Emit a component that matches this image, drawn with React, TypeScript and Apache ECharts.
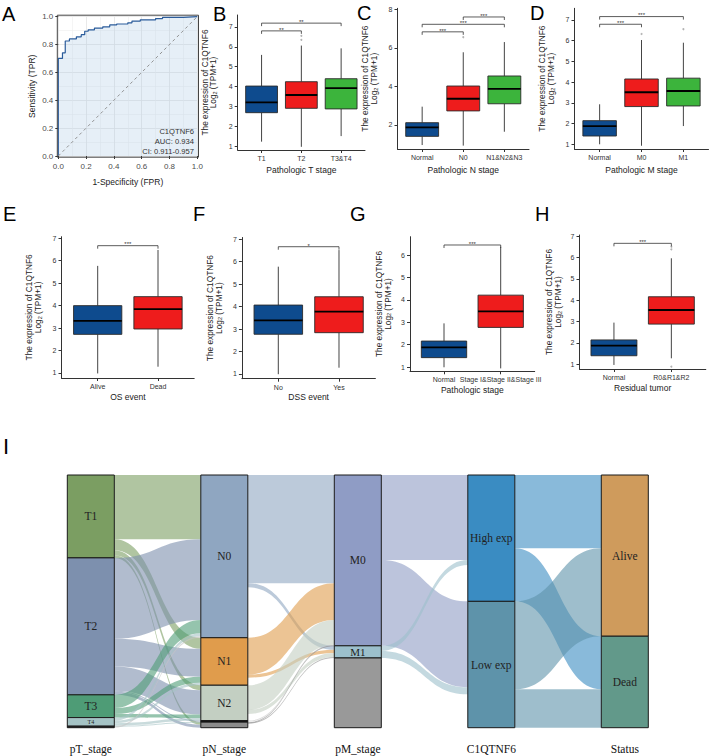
import React, { useEffect, useRef } from 'react';
import * as echarts from 'echarts';

// ---------- Panel A: ROC ----------
const rocFpr = [0, 0, 0.03, 0.03, 0.05, 0.05, 0.08, 0.08, 0.13, 0.13, 0.165, 0.165, 0.19, 0.19, 0.215, 0.215, 0.26, 0.26, 0.32, 0.32, 0.37, 0.37, 0.42, 0.42, 0.5, 0.5, 0.53, 0.53, 0.59, 0.59, 0.7, 0.7, 0.75, 0.75, 0.9, 0.9, 1.0];
const rocTpr = [0, 0.7, 0.7, 0.74, 0.74, 0.825, 0.825, 0.84, 0.84, 0.855, 0.855, 0.87, 0.87, 0.895, 0.895, 0.905, 0.905, 0.918, 0.918, 0.927, 0.927, 0.94, 0.94, 0.947, 0.947, 0.955, 0.955, 0.968, 0.968, 0.977, 0.977, 0.986, 0.986, 0.995, 0.995, 1, 1];
const rocDiag = [0, 1];
const rocNote = ['C1QTNF6', 'AUC: 0.934', 'CI: 0.911-0.957'];

// ---------- Boxplot panels ----------
const bCats = ['T1', 'T2', 'T3&T4'];
const bMin = [1.22, 0.96, 1.5];
const bQ1 = [2.68, 2.9, 2.87];
const bMed = [3.2, 3.57, 3.92];
const bQ3 = [4.02, 4.24, 4.39];
const bMax = [5.59, 6.06, 5.92];
const bOutX = [2, 2];
const bOutY = [6.35, 6.55];
const bSigFrom = [1, 1];
const bSigTo = [2, 3];
const bSigY = [6.8, 7.19];
const bSigText = ['**', '**'];
const bTicks = [1, 2, 3, 4, 5, 6, 7];

const cCats = ['Normal', 'N0', 'N1&N2&N3'];
const cMin = [0.96, 0.93, 1.65];
const cQ1 = [1.41, 2.73, 3.1];
const cMed = [1.88, 3.36, 3.87];
const cQ3 = [2.12, 4.02, 4.54];
const cMax = [2.95, 5.77, 6.3];
const cOutX = [2];
const cOutY = [6.55];
const cSigFrom = [1, 1, 2];
const cSigTo = [2, 3, 3];
const cSigY = [6.83, 7.22, 7.6];
const cSigText = ['***', '***', '***'];
const cTicks = [2, 4, 6, 8];

const dCats = ['Normal', 'M0', 'M1'];
const dMin = [1.0, 0.93, 1.88];
const dQ1 = [1.4, 2.82, 2.85];
const dMed = [1.88, 3.51, 3.57];
const dQ3 = [2.14, 4.15, 4.19];
const dMax = [2.93, 6.03, 5.9];
const dOutX = [2, 3];
const dOutY = [6.32, 6.55];
const dSigFrom = [1, 1];
const dSigTo = [2, 3];
const dSigY = [6.79, 7.16];
const dSigText = ['***', '***'];
const dTicks = [1, 2, 3, 4, 5, 6, 7];

const eCats = ['Alive', 'Dead'];
const eMin = [0.98, 1.28];
const eQ1 = [2.72, 2.96];
const eMed = [3.32, 3.84];
const eQ3 = [4.0, 4.4];
const eMax = [5.77, 6.48];
const eOutX: number[] = [];
const eOutY: number[] = [];
const eSigFrom = [1];
const eSigTo = [2];
const eSigY = [6.67];
const eSigText = ['***'];
const eTicks = [1, 2, 3, 4, 5, 6, 7];

const fCats = ['No', 'Yes'];
const fMin = [0.99, 1.28];
const fQ1 = [2.77, 2.84];
const fMed = [3.39, 3.78];
const fQ3 = [4.07, 4.44];
const fMax = [5.78, 6.52];
const fOutX: number[] = [];
const fOutY: number[] = [];
const fSigFrom = [1];
const fSigTo = [2];
const fSigY = [6.67];
const fSigText = ['*'];
const fTicks = [1, 2, 3, 4, 5, 6, 7];

const gCats = ['Normal', 'Stage I&Stage II&Stage III'];
const gMin = [0.99, 0.94];
const gQ1 = [1.42, 2.77];
const gMed = [1.88, 3.49];
const gQ3 = [2.16, 4.21];
const gMax = [2.95, 6.37];
const gOutX: number[] = [];
const gOutY: number[] = [];
const gSigFrom = [1];
const gSigTo = [2];
const gSigY = [6.45];
const gSigText = ['***'];
const gTicks = [1, 2, 3, 4, 5, 6];

const hCats = ['Normal', 'R0&R1&R2'];
const hMin = [0.97, 1.28];
const hQ1 = [1.4, 2.88];
const hMed = [1.87, 3.54];
const hQ3 = [2.14, 4.16];
const hMax = [2.95, 5.96];
const hOutX = [2, 2, 2];
const hOutY = [6.38, 6.5, 0.89];
const hSigFrom = [1];
const hSigTo = [2];
const hSigY = [6.66];
const hSigText = ['***'];
const hTicks = [1, 2, 3, 4, 5, 6, 7];

// ---------- Panel I: Sankey ----------
const sankeyNodes = ['T1', 'T2', 'T3', 'T4', 'TX', 'N0', 'N1', 'N2', 'N3', 'NX', 'M0', 'M1', 'MX', 'High exp', 'Low exp', 'Alive', 'Dead'];
const linkSource = [
  'T1', 'T1', 'T1', 'T1',
  'T2', 'T2', 'T2', 'T2', 'T2',
  'T3', 'T3', 'T3',
  'T4', 'T4', 'T4', 'T4',
  'TX',
  'N0', 'N0', 'N0',
  'N1', 'N1', 'N1',
  'N2', 'N2', 'N2',
  'N3', 'N3',
  'NX', 'NX', 'NX',
  'M0', 'M0', 'M1', 'M1', 'MX', 'MX',
  'High exp', 'High exp', 'Low exp', 'Low exp',
];
const linkTarget = [
  'N0', 'N1', 'N2', 'NX',
  'N0', 'N1', 'N2', 'N3', 'NX',
  'N0', 'N1', 'N2',
  'N0', 'N1', 'N2', 'N3',
  'N0',
  'M0', 'M1', 'MX',
  'M0', 'M1', 'MX',
  'M0', 'M1', 'MX',
  'M0', 'MX',
  'M0', 'M1', 'MX',
  'High exp', 'Low exp', 'High exp', 'Low exp', 'High exp', 'Low exp',
  'Alive', 'Dead', 'Alive', 'Dead',
];
const linkValue = [
  127, 22, 10, 5,
  160, 55, 48, 2, 6,
  26, 12, 7,
  6, 5, 5, 1,
  3,
  214, 8, 100,
  73, 6, 15,
  49, 8, 13,
  1, 2,
  1, 2, 8,
  168, 170, 10, 14, 72, 66,
  145, 105, 174, 76,
];
const sankeyColumns = ['pT_stage', 'pN_stage', 'pM_stage', 'C1QTNF6', 'Status'];

// ---------- styles ----------
const SANS = 'Liberation Sans, Arial, Helvetica, sans-serif';
const SERIF = 'Liberation Serif, Times New Roman, serif';
const BOX_COLORS = ['#0e4b8e', '#ee1c1c', '#3cb43c'];
const NODE_COLORS: Record<string, string> = {
  T1: '#7b9e62', T2: '#7d90ae', T3: '#4e9c76', T4: '#a5c3c5', TX: '#1a1a1a',
  N0: '#8fa6c1', N1: '#e09c4c', N2: '#c3cfc2', N3: '#111111', NX: '#8c8c8c',
  M0: '#8f9cc5', M1: '#9cc0cc', MX: '#999999',
  'High exp': '#3a8cc2', 'Low exp': '#5e93aa',
  Alive: '#cf9b5c', Dead: '#62998a',
};

type Panel = {
  cats: string[]; min: number[]; q1: number[]; med: number[]; q3: number[]; max: number[];
  outX: number[]; outY: number[]; sigFrom: number[]; sigTo: number[]; sigY: number[]; sigText: string[];
  ticks: number[]; xTitle: string;
  grid: { left: number; top: number; width: number; height: number };
  yMin: number; yMax: number; xGap: number; yGap: number;
};

const panels: Panel[] = [
  { cats: bCats, min: bMin, q1: bQ1, med: bMed, q3: bQ3, max: bMax, outX: bOutX, outY: bOutY, sigFrom: bSigFrom, sigTo: bSigTo, sigY: bSigY, sigText: bSigText, ticks: bTicks, xTitle: 'Pathologic T stage',
    grid: { left: 237.7, top: 15, width: 127.3, height: 135 }, yMin: 0.8, yMax: 7.6, xGap: 15, yGap: 20 },
  { cats: cCats, min: cMin, q1: cQ1, med: cMed, q3: cQ3, max: cMax, outX: cOutX, outY: cOutY, sigFrom: cSigFrom, sigTo: cSigTo, sigY: cSigY, sigText: cSigText, ticks: cTicks, xTitle: 'Pathologic N stage',
    grid: { left: 397.5, top: 8.3, width: 131.5, height: 140.7 }, yMin: 0.755, yMax: 8.05, xGap: 16, yGap: 19 },
  { cats: dCats, min: dMin, q1: dQ1, med: dMed, q3: dQ3, max: dMax, outX: dOutX, outY: dOutY, sigFrom: dSigFrom, sigTo: dSigTo, sigY: dSigY, sigText: dSigText, ticks: dTicks, xTitle: 'Pathologic M stage',
    grid: { left: 574.5, top: 8.3, width: 134, height: 140.7 }, yMin: 0.773, yMax: 7.56, xGap: 16, yGap: 19 },
  { cats: eCats, min: eMin, q1: eQ1, med: eMed, q3: eQ3, max: eMax, outX: eOutX, outY: eOutY, sigFrom: eSigFrom, sigTo: eSigTo, sigY: eSigY, sigText: eSigText, ticks: eTicks, xTitle: 'OS event',
    grid: { left: 61.5, top: 236.7, width: 132.7, height: 141.3 }, yMin: 0.777, yMax: 7.07, xGap: 14, yGap: 19 },
  { cats: fCats, min: fMin, q1: fQ1, med: fMed, q3: fQ3, max: fMax, outX: fOutX, outY: fOutY, sigFrom: fSigFrom, sigTo: fSigTo, sigY: fSigY, sigText: fSigText, ticks: fTicks, xTitle: 'DSS event',
    grid: { left: 241.9, top: 237.5, width: 133.5, height: 141.2 }, yMin: 0.79, yMax: 7.08, xGap: 14, yGap: 19 },
  { cats: gCats, min: gMin, q1: gQ1, med: gMed, q3: gQ3, max: gMax, outX: gOutX, outY: gOutY, sigFrom: gSigFrom, sigTo: gSigTo, sigY: gSigY, sigText: gSigText, ticks: gTicks, xTitle: 'Pathologic stage',
    grid: { left: 410, top: 236.7, width: 124.7, height: 134.6 }, yMin: 0.81, yMax: 6.82, xGap: 14, yGap: 18 },
  { cats: hCats, min: hMin, q1: hQ1, med: hMed, q3: hQ3, max: hMax, outX: hOutX, outY: hOutY, sigFrom: hSigFrom, sigTo: hSigTo, sigY: hSigY, sigText: hSigText, ticks: hTicks, xTitle: 'Residual tumor',
    grid: { left: 579.5, top: 235, width: 126.3, height: 134 }, yMin: 0.78, yMax: 7.05, xGap: 14, yGap: 17 },
];

function buildOption() {
  const grids: any[] = [];
  const xAxes: any[] = [];
  const yAxes: any[] = [];
  const series: any[] = [];

  // ROC grid (index 0)
  grids.push({ left: 58.3, top: 16.6, width: 139, height: 139.4, containLabel: false });
  xAxes.push({
    type: 'value', gridIndex: 0, min: 0, max: 1, interval: 0.2,
    axisLine: { show: false, onZero: false },
    axisTick: { show: true, length: 3, lineStyle: { color: '#333' } },
    axisLabel: { fontSize: 8, color: '#4d4d4d', margin: 6, fontFamily: SANS, formatter: (v: number) => v.toFixed(1) },
    splitLine: { show: true, lineStyle: { color: '#e3e3e3', width: 0.8 } },
    minorTick: { show: false, splitNumber: 2 },
    minorSplitLine: { show: true, lineStyle: { color: '#efefef', width: 0.6 } },
    name: '1-Specificity (FPR)', nameLocation: 'middle', nameGap: 21,
    nameTextStyle: { fontSize: 8.5, color: '#222', fontFamily: SANS },
  });
  yAxes.push({
    type: 'value', gridIndex: 0, min: 0, max: 1, interval: 0.2,
    axisLine: { show: false, onZero: false },
    axisTick: { show: true, length: 3, lineStyle: { color: '#333' } },
    axisLabel: { fontSize: 8, color: '#4d4d4d', margin: 5, fontFamily: SANS, formatter: (v: number) => v.toFixed(1) },
    splitLine: { show: true, lineStyle: { color: '#e3e3e3', width: 0.8 } },
    minorTick: { show: false, splitNumber: 2 },
    minorSplitLine: { show: true, lineStyle: { color: '#efefef', width: 0.6 } },
    name: 'Sensitivity (TPR)', nameLocation: 'middle', nameGap: 22,
    nameTextStyle: { fontSize: 8.5, color: '#222', fontFamily: SANS },
  });
  series.push({
    type: 'line', xAxisIndex: 0, yAxisIndex: 0,
    data: rocFpr.map((x, i) => [x, rocTpr[i]]),
    symbol: 'none', showSymbol: false,
    lineStyle: { color: '#2b5c9b', width: 1.2 },
    areaStyle: { color: 'rgba(170,200,228,0.42)', origin: 'start' },
    z: 3,
  });
  series.push({
    type: 'line', xAxisIndex: 0, yAxisIndex: 0,
    data: rocDiag.map((v) => [v, v]),
    symbol: 'none', showSymbol: false,
    lineStyle: { color: '#888', width: 0.9, type: [3, 3] },
    z: 4,
  });

  panels.forEach((p, k) => {
    const gi = k + 1;
    const n = p.cats.length;
    const idx = p.cats.map((_, i) => i + 1);
    grids.push({ ...p.grid, containLabel: false });
    xAxes.push({
      type: 'value', gridIndex: gi, min: 0.4, max: n + 0.6,
      axisLine: { show: true, onZero: false, lineStyle: { color: '#333', width: 1 } },
      axisTick: { show: true, length: 3, customValues: idx, lineStyle: { color: '#333' } },
      axisLabel: {
        customValues: idx, fontSize: 7, color: '#333', margin: 5, fontFamily: SANS,
        formatter: (v: number) => p.cats[Math.round(v) - 1] ?? '',
      },
      splitLine: { show: false },
      name: p.xTitle, nameLocation: 'middle', nameGap: p.xGap,
      nameTextStyle: { fontSize: 8.5, color: '#222', fontFamily: SANS },
    });
    yAxes.push({
      type: 'value', gridIndex: gi, min: p.yMin, max: p.yMax,
      axisLine: { show: true, onZero: false, lineStyle: { color: '#333', width: 1 } },
      axisTick: { show: true, length: 3, customValues: p.ticks, lineStyle: { color: '#333' } },
      axisLabel: { customValues: p.ticks, fontSize: 7, color: '#333', margin: 5, fontFamily: SANS },
      splitLine: { show: false },
      name: '{a|The expression of C1QTNF6}\n{a|Log}{s|2}{a| (TPM+1)}',
      nameLocation: 'middle', nameGap: p.yGap,
      nameTextStyle: {
        fontSize: 8.3, color: '#222', fontFamily: SANS,
        rich: {
          a: { fontSize: 8.3, lineHeight: 8.8, color: '#222', fontFamily: SANS },
          s: { fontSize: 5.5, lineHeight: 5, verticalAlign: 'bottom', color: '#222', fontFamily: SANS },
        },
      },
    });
    // boxes
    series.push({
      type: 'custom', xAxisIndex: gi, yAxisIndex: gi,
      data: p.cats.map((_, i) => [i + 1, p.min[i], p.q1[i], p.med[i], p.q3[i], p.max[i]]),
      encode: { x: 0, y: [1, 2, 3, 4, 5] },
      renderItem: (params: any, api: any) => {
        const x = api.value(0);
        const lo = api.coord([x, api.value(1)]);
        const q1 = api.coord([x, api.value(2)]);
        const md = api.coord([x, api.value(3)]);
        const q3 = api.coord([x, api.value(4)]);
        const hi = api.coord([x, api.value(5)]);
        const w = api.size([0.8, 0])[0];
        const cx = lo[0];
        const color = BOX_COLORS[params.dataIndex % BOX_COLORS.length];
        return {
          type: 'group',
          children: [
            { type: 'line', shape: { x1: cx, y1: hi[1], x2: cx, y2: q3[1] }, style: { stroke: '#444', lineWidth: 1 } },
            { type: 'line', shape: { x1: cx, y1: q1[1], x2: cx, y2: lo[1] }, style: { stroke: '#444', lineWidth: 1 } },
            { type: 'rect', shape: { x: cx - w / 2, y: q3[1], width: w, height: q1[1] - q3[1] }, style: { fill: color, stroke: '#2a2a2a', lineWidth: 0.9 } },
            { type: 'line', shape: { x1: cx - w / 2, y1: md[1], x2: cx + w / 2, y2: md[1] }, style: { stroke: '#000', lineWidth: 1.8 } },
          ],
        };
      },
      z: 3,
    });
    if (p.outX.length) {
      series.push({
        type: 'scatter', xAxisIndex: gi, yAxisIndex: gi,
        data: p.outX.map((x, i) => [x, p.outY[i]]),
        symbolSize: 2, itemStyle: { color: '#a0a0a0' }, z: 4,
      });
    }
    series.push({
      type: 'custom', xAxisIndex: gi, yAxisIndex: gi,
      data: p.sigFrom.map((f, i) => [f, p.sigTo[i], p.sigY[i]]),
      encode: { x: [0, 1], y: 2 },
      renderItem: (params: any, api: any) => {
        const a = api.coord([api.value(0), api.value(2)]);
        const b = api.coord([api.value(1), api.value(2)]);
        const tip = 3;
        return {
          type: 'group',
          children: [
            { type: 'polyline', shape: { points: [[a[0], a[1] + tip], [a[0], a[1]], [b[0], b[1]], [b[0], b[1] + tip]] }, style: { stroke: '#333', lineWidth: 0.8, fill: null } },
            { type: 'text', style: { text: p.sigText[params.dataIndex], x: (a[0] + b[0]) / 2, y: a[1] - 1.2, align: 'center', verticalAlign: 'middle', textAlign: 'center', textVerticalAlign: 'middle', fontSize: 6, fontFamily: SANS, fill: '#333' } },
          ],
        };
      },
      z: 5,
    });
  });

  // Sankey
  const hiddenNode = new Set(['TX', 'N3', 'NX', 'MX']);
  const darkNode = new Set(['TX', 'N3']);
  const smallLabel: Record<string, number> = { T4: 6, M1: 11 };
  series.push({
    type: 'sankey',
    left: 67.3, top: 475, width: 581, height: 252.7,
    nodeWidth: 47, nodeGap: 0, layoutIterations: 0,
    draggable: false,
    emphasis: { disabled: true },
    itemStyle: { borderColor: '#1a1a1a', borderWidth: 1, opacity: 1 },
    lineStyle: { color: 'source', opacity: 0.6, curveness: 0.5 },
    label: { show: true, position: 'inside', fontFamily: SERIF, fontSize: 11.5, color: '#222' },
    data: sankeyNodes.map((name) => ({
      name,
      itemStyle: { color: NODE_COLORS[name] },
      label: hiddenNode.has(name) ? { show: false } : { show: true, fontSize: smallLabel[name] ?? 11.5 },
    })),
    links: linkSource.map((s, i) => {
      const hidden = s === 'MX' || linkTarget[i] === 'MX';
      const ls: any = { opacity: hidden ? 0 : 0.6 };
      if (darkNode.has(s)) ls.color = '#c4c4c4';
      return { source: s, target: linkTarget[i], value: linkValue[i], lineStyle: ls };
    }),
  });

  const letter = (t: string, x: number, y: number, size = 20) => ({
    type: 'text', x, y, z: 100,
    style: { text: t, fontSize: size, fontFamily: SANS, fill: '#000', verticalAlign: 'middle', textVerticalAlign: 'middle' },
  });

  const colX = [90.8, 224.3, 357.8, 491.3, 624.8];

  const graphic: any[] = [
    { type: 'rect', z: 50, shape: { x: 57.3, y: 15.2, width: 141.2, height: 142 }, style: { fill: 'none', stroke: '#444', lineWidth: 1 } },
    ...rocNote.map((t, i) => ({
      type: 'text', z: 60, x: 194, y: 131 + i * 10,
      style: { text: t, fontSize: 7.6, fontFamily: SANS, fill: '#333', align: 'right', textAlign: 'right', verticalAlign: 'middle', textVerticalAlign: 'middle' },
    })),
    letter('A', 2, 14),
    letter('B', 213, 13.5),
    letter('C', 357, 12.5),
    letter('D', 530, 12.5),
    letter('E', 3, 214),
    letter('F', 193, 214),
    letter('G', 350, 214),
    letter('H', 535, 214),
    letter('I', 3, 446.5, 22),
    ...sankeyColumns.map((t, i) => ({
      type: 'text', z: 60, x: colX[i], y: 749,
      style: { text: t, fontSize: 11.5, fontFamily: SERIF, fill: '#111', align: 'center', textAlign: 'center', verticalAlign: 'middle', textVerticalAlign: 'middle' },
    })),
  ];

  return {
    animation: false,
    backgroundColor: '#ffffff',
    grid: grids,
    xAxis: xAxes,
    yAxis: yAxes,
    series,
    graphic,
  };
}

export default function App() {
  const ref = useRef<HTMLDivElement>(null);
  useEffect(() => {
    if (!ref.current) return;
    const chart = echarts.init(ref.current, undefined, { renderer: 'svg' });
    chart.setOption(buildOption() as any);
    return () => chart.dispose();
  }, []);
  return <div ref={ref} style={{ position: 'fixed', left: 0, top: 0, width: 709, height: 756, background: '#fff' }} />;
}
